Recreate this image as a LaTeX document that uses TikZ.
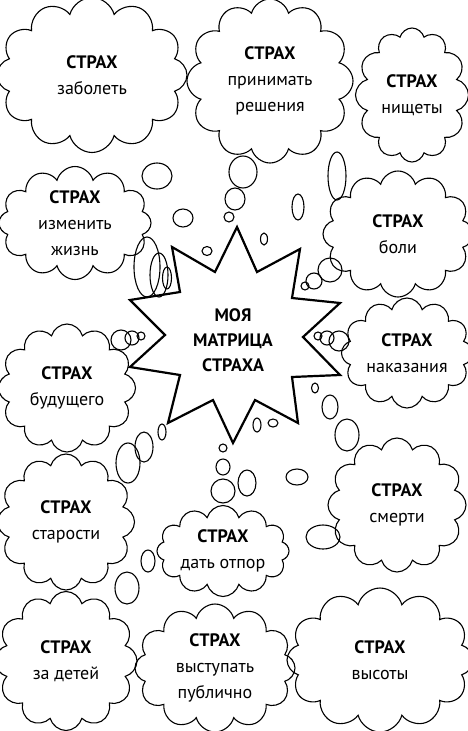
\documentclass[tikz,border=0pt]{standalone}
\usepackage{fontspec}
\setmainfont{PT Sans}
\usepackage{tikz}
\usetikzlibrary{shapes.symbols}
\tikzstyle{thought} = [cloud, cloud puffs=12, cloud ignores aspect, draw=black, line width=1.1pt, fill=none, inner sep=0pt]
\tikzstyle{fear} = [align=center, font=\fontsize{18}{26}\selectfont]
\tikzstyle{bubble} = [draw=black, line width=1.1pt]
\tikzstyle{burst} = [draw=black, line width=2.2pt, line join=miter]
\newcommand{\strah}[1]{\textbf{СТРАХ}\\#1}

\begin{document}
\begin{tikzpicture}[x=1pt, y=-1pt]
        \useasboundingbox (0,0) rectangle (467,731);
        % Top row
        \node (ill) [thought, minimum width=190, minimum height=155, label={[fear]center:{\strah{заболеть}}}] at (92,75) {};
        \node (decide) [thought, minimum width=166, minimum height=164, label={[fear]center:{\strah{принимать\\решения}}}] at (270,81) {};
        \node (poverty) [thought, minimum width=113, minimum height=134, label={[fear]center:{\strah{нищеты}}}] at (412,95) {};
        % Sides
        \node (change) [thought, minimum width=152, minimum height=113, label={[fear]center:{\strah{изменить\\жизнь}}}] at (75,223) {};
        \node (pain) [thought, minimum width=150, minimum height=126, label={[fear]center:{\strah{боли}}}] at (398,234) {};
        \node (punish) [thought, minimum width=131, minimum height=110, label={[fear]center:{\strah{наказания}}}] at (407,353) {};
        \node (future) [thought, minimum width=137, minimum height=128, label={[fear]center:{\strah{будущего}}}] at (67,388) {};
        \node (age) [thought, minimum width=137, minimum height=136, label={[fear]center:{\strah{старости}}}] at (66,522) {};
        \node (resist) [thought, minimum width=132, minimum height=91, label={[fear]center:{\strah{дать отпор}}}] at (223,551) {};
        \node (death) [thought, minimum width=138, minimum height=134, label={[fear]center:{\strah{смерти}}}] at (397,505) {};
        % Bottom row
        \node (kids) [thought, minimum width=142, minimum height=139, label={[fear]center:{\strah{за детей}}}] at (66,661) {};
        \node (speak) [thought, minimum width=160, minimum height=128, label={[fear]center:{\strah{выступать\\публично}}}] at (215,668) {};
        \node (height) [thought, minimum width=186, minimum height=144, label={[fear]center:{\strah{высоты}}}] at (380,660) {};
        % The burst in the middle
        \draw [burst] (237,227) -- (257,272) -- (300,249) -- (292,298) -- (340,303) -- (303,337)
            -- (340,375) -- (292,377) -- (298,423) -- (255,400) -- (233,443) -- (213,400)
            -- (168,423) -- (180,375) -- (130,367) -- (165,335) -- (130,300) -- (180,292)
            -- (172,247) -- (215,272) -- cycle;
        \node (core) [fear, font=\fontsize{18}{25}\selectfont\bfseries] at (233,340) {МОЯ\\МАТРИЦА\\СТРАХА};
        % Small thought bubbles
        \foreach \x/\y/\a/\b in {157/176/15/13, 183/218/10/9, 207/251/5/4.5, 243/172/14/16, 235/199/10/11,
            229/217/5/5, 298/207/6/13, 264/239/3.5/6, 337/176/9/24, 147/267/13/30, 159/275/9/22,
            167/278/4.5/11, 330/270/12/12, 314/281/8/8, 305/286/4/4, 339/341/10/10, 327/338/7/7,
            318/336/4/4, 121/340/10/10, 132/338/7/7, 141/336/4/4, 144/447/9/15, 162/432/4/8,
            128/463/12/20, 148/561/7/11, 127/588/12/16, 223/448/4/4, 223/467/7/8, 223/491/12/12,
            247/483/9/13, 297/477/11/8, 257/425/4/7, 273/423/5/4, 315/388/3.5/5, 330/407/8/12,
            347/435/12/16, 323/537/17/12}
            \draw [bubble] (\x,\y) ellipse [x radius=\a, y radius=\b];
\end{tikzpicture}
\end{document}
